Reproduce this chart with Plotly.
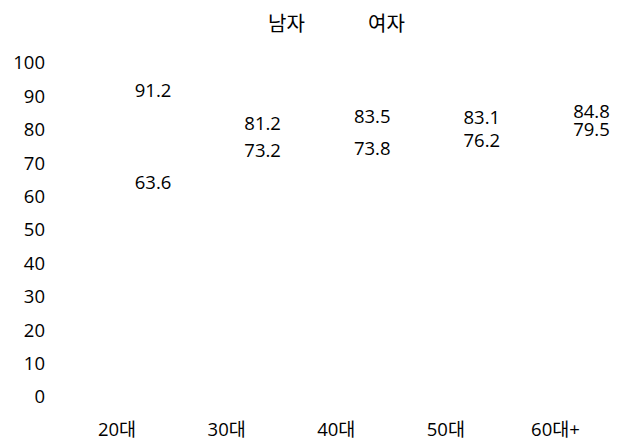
import plotly.graph_objects as go

categories = ["20대", "30대", "40대", "50대", "60대+"]
male = [91.2, 81.2, 83.5, 83.1, 84.8]
female = [63.6, 73.2, 73.8, 76.2, 79.5]
series_names = ["남자", "여자"]
y_ticks = [0, 10, 20, 30, 40, 50, 60, 70, 80, 90, 100]

FONT = "Open Sans, Noto Sans CJK KR, sans-serif"
FS = 18.5
fig = go.Figure()
for name, vals in zip(series_names, [male, female]):
    # legend entry (invisible marker)
    fig.add_trace(go.Scatter(
        x=categories, y=vals, mode="markers", name=name,
        marker=dict(color="rgba(0,0,0,0)", size=1),
        hoverinfo="skip",
    ))
    fig.add_trace(go.Scatter(
        x=categories, y=vals, mode="text", name=name,
        text=[f"{v:.1f}" for v in vals], textposition="middle center",
        textfont=dict(family=FONT, size=FS, color="#000"),
        showlegend=False, cliponaxis=False,
    ))

fig.update_layout(
    width=618, height=442,
    margin=dict(l=60, r=10, t=63, b=45),
    plot_bgcolor="white", paper_bgcolor="white",
    font=dict(family=FONT, size=FS, color="#000"),
    legend=dict(orientation="h", x=228 / 618, xanchor="left", xref="container",
                y=1 - 4 / 442, yanchor="top", yref="container",
                font=dict(size=20), itemwidth=30,
                entrywidth=55, entrywidthmode="pixels"),
    showlegend=True,
)
fig.update_xaxes(
    type="category", categoryarray=categories, range=[-0.849, 4.151],
    showgrid=False, zeroline=False, showline=False, ticks="",
    ticklabelshift=-36, ticklabelstandoff=19, automargin=False,
)
fig.update_yaxes(
    range=[0, 100], tickvals=y_ticks, showgrid=False, zeroline=False,
    showline=False, ticks="", ticklabelstandoff=14, automargin=False,
)
fig.write_html("out.html", config={"displayModeBar": False},
               post_script="document.body.style.margin='0';")
